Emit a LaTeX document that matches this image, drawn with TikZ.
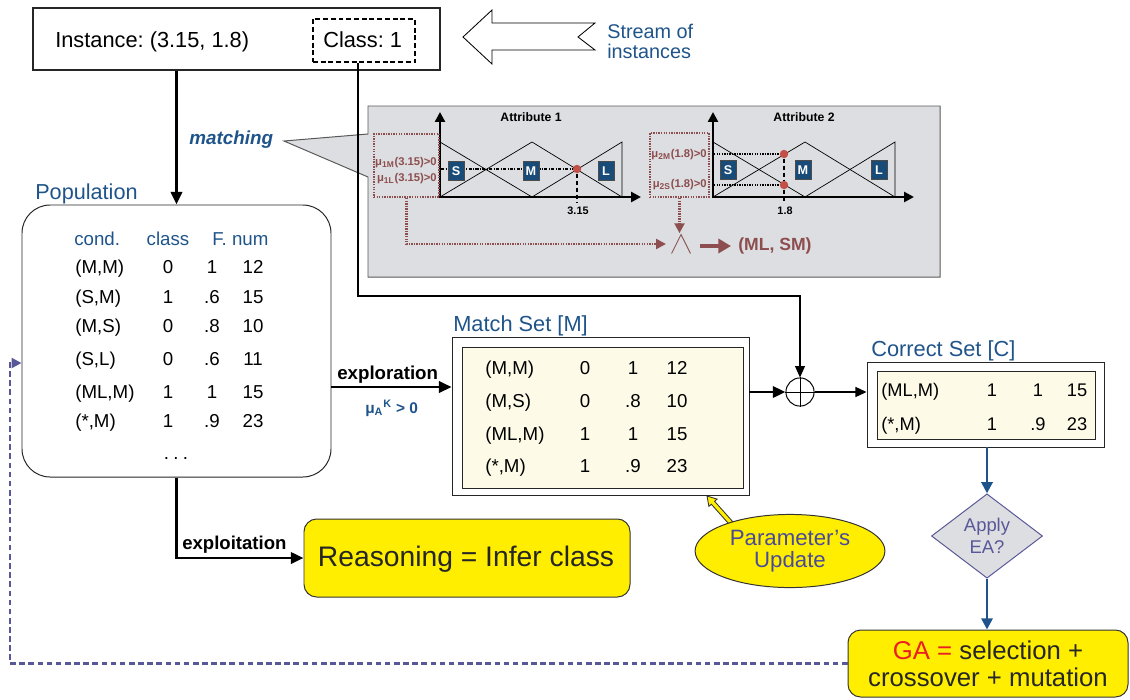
\documentclass[tikz,border=0pt]{standalone}
\usepackage{fontspec}
\setmainfont{Liberation Sans}
\frenchspacing
\usetikzlibrary{arrows.meta,shapes.geometric,fit,calc}
\definecolor{tblue}{RGB}{31,84,138}
\definecolor{mar}{RGB}{140,78,78}
\definecolor{pgray}{RGB}{221,222,225}
\definecolor{lblue}{RGB}{25,75,120}
\definecolor{gyel}{RGB}{255,238,0}
\definecolor{cream}{RGB}{253,251,232}
\definecolor{dpur}{RGB}{88,88,152}
\definecolor{pblue}{RGB}{74,74,154}
\definecolor{gred}{RGB}{235,30,35}
\definecolor{dotred}{RGB}{195,80,70}
\newcommand{\setsz}[2]{\fontsize{#1}{#2}\selectfont}
\tikzset{
  px/.style={x=0.025cm,y=-0.025cm},
  plainbox/.style={draw=black!85, inner sep=0pt, line width=0.7pt},
  arr/.style={line width=2pt, -{Triangle[length=9pt,width=8pt]}},
  tx/.style={inner sep=0pt, font=\setsz{13.3}{16}},
  lab/.style={inner sep=0pt, anchor=base west, text=tblue, font=\setsz{15.5}{18}},
  mlab/.style={draw=black!70, fill=lblue, text=white, font=\bfseries\setsz{9}{10}, minimum width=11.5pt, minimum height=13.5pt, inner sep=0pt, line width=0.4pt},
  mutext/.style={inner sep=0pt, anchor=east, text=mar, font=\bfseries\setsz{8}{9}},
  memaxis/.style={line width=1.8pt, -{Triangle[length=7pt,width=7pt]}},
  memb/.style={line width=0.5pt},
  reddot/.style={circle, fill=dotred, inner sep=0pt, minimum size=6pt},
  mbox/.style={draw=mar, line width=1.5pt, dash pattern=on 1pt off 0.8pt, inner sep=0pt},
  ybox/.style={draw=black!80, fill=gyel, rounded corners=9pt, inner sep=0pt, line width=0.7pt},
  dashdot/.style={line width=1.5pt, dash pattern=on 2.2pt off 1pt on 0.7pt off 1pt},
  dotline/.style={line width=1.5pt, dash pattern=on 1pt off 0.8pt},
  vdash/.style={line width=1.6pt, dash pattern=on 3pt off 2pt},
  valtx/.style={inner sep=0pt, font=\bfseries\setsz{7.7}{9}},
  setbox/.style={draw=black!85, inner sep=0pt, line width=0.55pt},
}
\begin{document}
\begin{tikzpicture}[px]
\useasboundingbox (0,0) rectangle (1130,699);

% ---------- Instance box ----------
\node[plainbox, line width=0.8pt, fit={(33,8) (440,70)}] (inst) {};
\node[inner sep=0pt, anchor=base west, font=\setsz{15.5}{18}] (insttxt) at (55,47) {Instance: (3.15, 1.8)};
\node[draw, line width=1.6pt, dash pattern=on 3.5pt off 2pt, inner sep=0pt, fit={(313,19) (415,62)}] (cls) {};
\node[inner sep=0pt, anchor=base west, font=\setsz{15.5}{18}] (clstxt) at (323,47) {Class: 1};

% ---------- Stream arrow ----------
\draw[line width=0.6pt, fill=white] (463,37) -- (492,10) -- (492,23) -- (595,23) -- (578,37) -- (595,50) -- (492,50) -- (492,64) -- cycle;
\node[inner sep=0pt, anchor=base west, text=tblue, font=\setsz{14.1}{16}] (stream1) at (607,38) {Stream of};
\node[inner sep=0pt, anchor=base west, text=tblue, font=\setsz{14.1}{16}] (stream2) at (607,58) {instances};

% ---------- matching callout panel ----------
\node[inner sep=0pt, anchor=base west, text=tblue, font=\bfseries\itshape\setsz{13.4}{15}] (matching) at (189,144) {matching};
\draw[fill=pgray, draw=black!65, line width=0.7pt] (368,106) -- (940,106) -- (940,277) -- (368,277) -- (368,177) -- (284,141) -- (368,134) -- cycle;

% chart 1
\node[inner sep=0pt, font=\bfseries\setsz{8.7}{10}] (t1) at (531,117) {Attribute 1};
\draw[memb] (440,142) -- (532,197);
\draw[memb] (440,197) -- (532,142) -- (622,197);
\draw[memb] (532,197) -- (622,142) -- (622,197);
\node[reddot] (d1) at (577,169) {};
\draw[dashdot] (441,169) -- (d1.west);
\draw[vdash] (d1.south) -- (577,203);
\draw[memaxis] (440,198) -- (440,112);
\draw[memaxis] (439,197) -- (641,197);
\node[mlab] (s1) at (456,171) {S};
\node[mlab] (m1) at (531,171) {M};
\node[mlab] (l1) at (606,171) {L};
\node[valtx] (v1) at (578,211) {3.15};
\node[mbox, fit={(374,134) (439,197)}] (mb1) {};
\node[mutext] (mu1a) at (437,163) {μ\textsubscript{1M}(3.15)>0};
\node[mutext] (mu1b) at (437,179) {μ\textsubscript{1L}(3.15)>0};

% chart 2
\node[inner sep=0pt, font=\bfseries\setsz{8.7}{10}] (t2) at (804,117) {Attribute 2};
\draw[memb] (713,142) -- (805,197);
\draw[memb] (713,197) -- (805,142) -- (895,197);
\draw[memb] (805,197) -- (895,142) -- (895,197);
\node[reddot] (d2a) at (784,154) {};
\node[reddot] (d2b) at (784,185) {};
\draw[dotline] (714,154) -- (d2a.west);
\draw[dotline] (714,185) -- (d2b.west);
\draw[vdash] (d2a.south) -- (d2b.north);
\draw[vdash] (d2b.south) -- (784,203);
\draw[memaxis] (713,198) -- (713,112);
\draw[memaxis] (712,197) -- (914,197);
\node[mlab] (s2) at (728,170) {S};
\node[mlab] (m2) at (803,170) {M};
\node[mlab] (l2) at (879,170) {L};
\node[valtx] (v2) at (785,211) {1.8};
\node[mbox, fit={(650,133) (709,197)}] (mb2) {};
\node[mutext] (mu2a) at (707,155) {μ\textsubscript{2M}(1.8)>0};
\node[mutext] (mu2b) at (707,185) {μ\textsubscript{2S}(1.8)>0};

% AND and result
\node[inner sep=0pt, minimum width=13pt, minimum height=13pt] (andop) at (681,244) {};
\draw[mar!80!gray, line width=0.7pt] (andop.south west) -- (andop.north) -- (andop.south east);
\draw[mar, line width=1.7pt, dash pattern=on 1pt off 0.8pt, -{Triangle[length=7pt,width=7pt]}, shorten >=4pt] (mb1.south) |- (andop.west);
\draw[mar, line width=1.7pt, dash pattern=on 1pt off 0.8pt, -{Triangle[length=7pt,width=7pt]}, shorten >=1pt] (mb2.south) -- (mb2.south |- andop.north);
\node[inner sep=0pt, anchor=west, text=mar, font=\bfseries\setsz{12.5}{14}] (mlsm) at (738,246) {(ML, SM)};
\draw[mar, line width=3pt, -{Triangle[length=9pt,width=10pt]}] ($(andop.east)+(10,2)$) -- ($(mlsm.west)+(-7,0)$);

% ---------- Population ----------
\node[lab, font=\setsz{15.4}{18}] (poplab) at (35,199) {Population};
\node[plainbox, rounded corners=20pt, fit={(22,205) (331,477)}] (pop) {};
\node[tx, anchor=base west, text=tblue] (h1) at (74,245) {cond.};
\node[tx, anchor=base, text=tblue] (h2) at (168,245) {class};
\node[tx, anchor=base west, text=tblue] (h3) at (212,245) {F. num};
\foreach \c/\k/\f/\n/\yy [count=\i] in {{(M,M)}/0/1/12/273, {(S,M)}/1/.6/15/303, {(M,S)}/0/.8/10/332, {(S,L)}/0/.6/11/365, {(ML,M)}/1/1/15/398, {(*,M)}/1/.9/23/427}{
  \node[tx, anchor=base west] (pa\i) at (75,\yy) {\c};
  \node[tx, anchor=base] (pb\i) at (168,\yy) {\k};
  \node[tx, anchor=base] (pc\i) at (212,\yy) {\f};
  \node[tx, anchor=base] (pd\i) at (253,\yy) {\n};
}
\node[tx, anchor=base] (popdots) at (176,459) {.\hspace{3pt}.\hspace{3pt}.};

% ---------- Match set ----------
\node[lab] (mlab) at (453,331) {Match Set [M]};
\node[setbox, fit={(452,337) (749,495)}] (mset) {};
\node[setbox, fill=cream, fit={(462,347) (743,488)}] (mseti) {};
\foreach \c/\k/\f/\n/\yy [count=\i] in {{(M,M)}/0/1/12/374, {(M,S)}/0/.8/10/407, {(ML,M)}/1/1/15/440, {(*,M)}/1/.9/23/472}{
  \node[tx, anchor=base west] (ma\i) at (485,\yy) {\c};
  \node[tx, anchor=base] (mb\i) at (585,\yy) {\k};
  \node[tx, anchor=base] (mc\i) at (633,\yy) {\f};
  \node[tx, anchor=base] (md\i) at (677,\yy) {\n};
}

% ---------- Correct set ----------
\node[lab] (clab) at (871,356) {Correct Set [C]};
\node[setbox, fit={(867,362) (1104,447)}] (cset) {};
\node[setbox, fill=cream, fit={(877,371) (1095,439)}] (cseti) {};
\foreach \c/\k/\f/\n/\yy [count=\i] in {{(ML,M)}/1/1/15/396, {(*,M)}/1/.9/23/430}{
  \node[tx, anchor=base west, font=\setsz{13}{16}] (ca\i) at (881,\yy) {\c};
  \node[tx, anchor=base, font=\setsz{13}{16}] (cb\i) at (992,\yy) {\k};
  \node[tx, anchor=base, font=\setsz{13}{16}] (cc\i) at (1038,\yy) {\f};
  \node[tx, anchor=base, font=\setsz{13}{16}] (cd\i) at (1077,\yy) {\n};
}

% ---------- combiner ----------
\node[circle, draw, line width=0.7pt, minimum size=20pt, inner sep=0pt, fill=white] (op) at (800,392) {};
\draw[line width=0.5pt] (op.north) -- (op.south) (op.west) -- (op.east);

% ---------- Diamond and GA ----------
\node[diamond, aspect=1.4, draw=dpur, fill=pgray, line width=0.7pt, minimum width=79pt, minimum height=60pt, inner sep=0pt, text=dpur, align=center, font=\setsz{13.1}{15.6}] (ea) at (987,536) {Apply\\EA?};
\node[ybox, fit={(848,630) (1128,697)}] (ga) {};
\node[inner sep=0pt, align=center, font=\setsz{18.3}{19.2}, text=black!85] (gatxt) at (988,664) {\textcolor{gred}{GA =} selection +\\crossover + mutation};

% ---------- Reasoning ----------
\node[ybox, fit={(304,519) (630,597)}] (reason) {};
\node[inner sep=0pt, font=\setsz{20.1}{22}, text=black!85] (reasontxt) at (466,559) {Reasoning = Infer class};

% ---------- Parameter's update ----------
\draw[fill=gyel, draw=black!80, line width=0.6pt] (732.6,521.5) -- (714.6,501.3) -- (717.1,499.1) -- (707,496) -- (708.9,506.4) -- (711.3,504.2) -- (729.4,524.5) -- cycle;
\node[ellipse, draw=black!80, fill=gyel, line width=0.7pt, minimum width=135pt, minimum height=52pt, inner sep=0pt, align=center, text=pblue, font=\setsz{15.8}{15.6}] (param) at (790,551) {Parameter’s\\Update};

% ---------- connectors ----------
\draw[arr] (inst.south -| pop.north) -- (pop.north);
\coordinate (bend) at (358,296);
\draw[line width=0.75pt, -{Triangle[length=8pt,width=7pt]}] (cls.south -| bend) -- (bend) -| (op.north);
\coordinate (ey) at (0,387);
\draw[arr] (pop.east |- ey) -- (mset.west |- ey);
\node[inner sep=0pt, anchor=base west, font=\bfseries\setsz{13.3}{15}] (explo) at (337,379) {exploration};
\node[inner sep=0pt, anchor=base west, text=tblue, font=\bfseries\setsz{11}{12}] (mulab) at (365,413) {μ\textsubscript{A}\textsuperscript{K} > 0};
\draw[arr] (mset.east |- op.west) -- (op.west);
\draw[line width=1.5pt, -{Triangle[length=8pt,width=7pt]}] (op.east) -- (cset.west |- op.east);
\draw[tblue, line width=1.8pt, -{Triangle[length=8pt,width=8pt]}] (cset.south -| ea.north) -- (ea.north);
\draw[tblue, line width=1.8pt, -{Triangle[length=8pt,width=8pt]}] (ea.south) -- (ga.north -| ea.south);
\draw[arr] (pop.south) |- (reason.west);
\node[inner sep=0pt, anchor=base west, font=\bfseries\setsz{13.2}{15}] (exploit) at (182,549) {exploitation};
\coordinate (fb) at (10,363);
\draw[dpur, line width=1.7pt, dash pattern=on 4pt off 2.5pt, -{Triangle[length=7pt,width=7pt]}] (ga.west) -| (fb) -- (pop.west |- fb);
\end{tikzpicture}
\end{document}
